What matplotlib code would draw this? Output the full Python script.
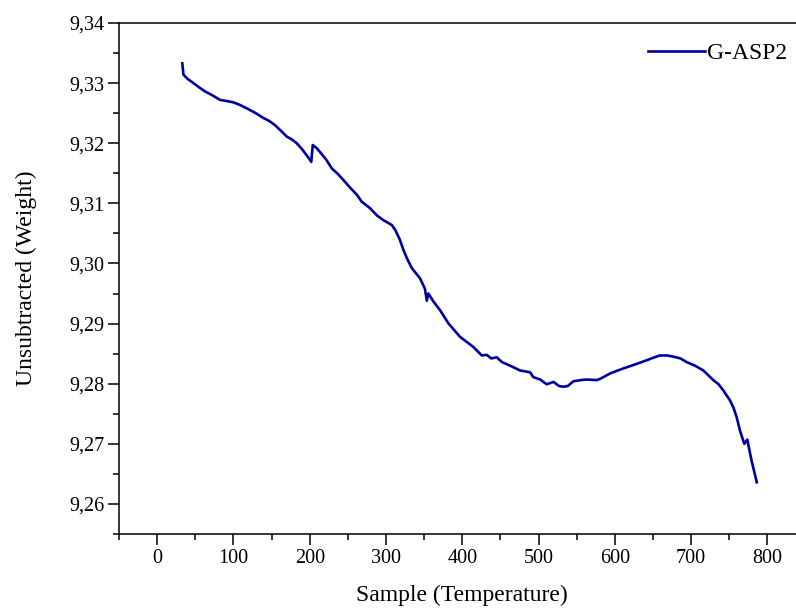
import matplotlib
matplotlib.use("Agg")
import matplotlib.pyplot as plt
from matplotlib.ticker import MultipleLocator, FuncFormatter

plt.rcParams['font.family'] = ['Liberation Serif', 'DejaVu Serif']

# Thermogravimetric trace: temperature vs. unsubtracted weight
temperature = [33, 34.5, 40, 47.6, 55, 63, 72, 82.6, 92, 100, 108, 117.5, 128,
               139.3, 147, 154.6, 162, 170, 177, 183, 190, 196, 200.5, 202,
               204, 209, 215, 222, 229, 236, 244, 253, 262, 268, 279, 288,
               296.6, 307.6, 312, 318, 323, 328, 334, 344.7, 351, 353.5,
               355.5, 362, 371, 382, 397, 414.6, 425.5, 432, 438, 445, 452,
               462.6, 475.8, 488.9, 493, 502, 510.7, 519.5, 527, 532.6, 538,
               545.6, 555, 563, 576, 580.6, 593.7, 608, 624, 633, 641.7, 650,
               659, 668, 676.7, 686, 694, 705, 716, 729, 736, 742, 751, 755.5,
               759.7, 764, 767, 769.7, 773.6, 779, 786]
weight = [9.3333, 9.3314, 9.3307, 9.3300, 9.3293, 9.3286, 9.3280, 9.3272,
          9.3270, 9.3268, 9.3264, 9.3258, 9.3251, 9.3242, 9.3237, 9.3230,
          9.3221, 9.3211, 9.3206, 9.3200, 9.3190, 9.3180, 9.3172, 9.3169,
          9.3197, 9.3192, 9.3183, 9.3172, 9.3158, 9.3150, 9.3139, 9.3126,
          9.3114, 9.3103, 9.3092, 9.3080, 9.3072, 9.3064, 9.3056, 9.3040,
          9.3022, 9.3007, 9.2992, 9.2975, 9.2958, 9.2938, 9.2950, 9.2937,
          9.2922, 9.2900, 9.2878, 9.2861, 9.2847, 9.2848, 9.2842, 9.2844,
          9.2836, 9.2830, 9.2822, 9.2819, 9.2811, 9.2807, 9.2799, 9.2803,
          9.2796, 9.2795, 9.2796, 9.2804, 9.2806, 9.2807, 9.2806, 9.2808,
          9.2817, 9.2824, 9.2831, 9.2835, 9.2839, 9.2843, 9.2847, 9.2847,
          9.2845, 9.2842, 9.2836, 9.2830, 9.2822, 9.2806, 9.2799, 9.2789,
          9.2772, 9.2760, 9.2744, 9.2722, 9.2710, 9.2700, 9.2707, 9.2673,
          9.2636]

series_label = "G-ASP2"
x_label = "Sample (Temperature)"
y_label = "Unsubtracted (Weight)"

W, H = 796, 608
fig = plt.figure(figsize=(W / 100, H / 100), dpi=100)
ax = fig.add_axes([119 / W, 1 - 534 / H, (805.6 - 119) / W, (534 - 23) / H])

ax.plot(temperature, weight, color="#0000A0", lw=1.9, label=series_label)

ax.set_xlim(-50, 850)
ax.set_ylim(9.255, 9.34)

ax.xaxis.set_major_locator(MultipleLocator(100))
ax.xaxis.set_minor_locator(MultipleLocator(50))
ax.yaxis.set_major_locator(MultipleLocator(0.01))
ax.yaxis.set_minor_locator(MultipleLocator(0.005))
ax.yaxis.set_major_formatter(FuncFormatter(lambda v, p: f"{v:.2f}".replace(".", ",")))
ax.xaxis.set_major_formatter(FuncFormatter(lambda v, p: f"{v:.0f}"))

ax.tick_params(which="major", direction="out", length=7.7, width=1.1,
               labelsize=14.5, pad=3, top=False, right=False)
ax.tick_params(which="minor", direction="out", length=4.3, width=1.1,
               top=False, right=False)
for s in ax.spines.values():
    s.set_linewidth(1.1)

ax.set_xlabel(x_label, fontsize=17, labelpad=12)
ax.set_ylabel(y_label, fontsize=17, labelpad=23)

ax.legend(loc="center right", bbox_to_anchor=(787 / W, 1 - 53 / H),
          bbox_transform=fig.transFigure, frameon=False, fontsize=17,
          handlelength=2.4, handletextpad=0.1, borderpad=0, borderaxespad=0)

fig.savefig("out.png", dpi=100)
